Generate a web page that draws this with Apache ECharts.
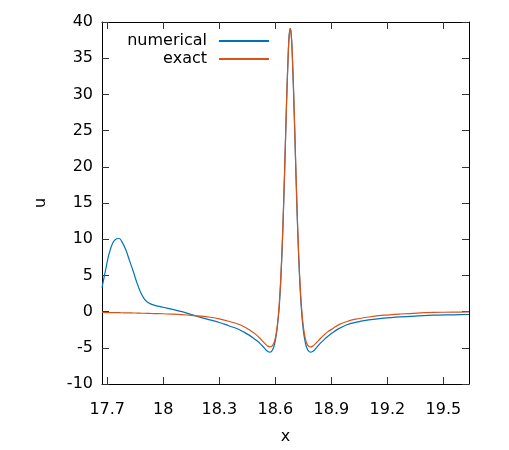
<!DOCTYPE html>
<html>
<head>
<meta charset="utf-8">
<script src="https://cdn.jsdelivr.net/npm/echarts@6.0.0/dist/echarts.min.js"></script>
<style>
  html, body { margin: 0; padding: 0; background: #fff; }
  #chart { width: 509px; height: 450px; }
</style>
</head>
<body>
<div id="chart"></div>
<script>
// values
const xs = [17.672, 17.69, 17.71, 17.73, 17.75, 17.765, 17.78, 17.80, 17.82, 17.84,
  17.86, 17.88, 17.90, 17.925, 17.95, 18.0, 18.05, 18.1, 18.15, 18.2,
  18.25, 18.3, 18.35, 18.4, 18.43, 18.46, 18.48, 18.5, 18.52, 18.54,
  18.55, 18.56, 18.57, 18.58, 18.59, 18.60, 18.61, 18.62, 18.63, 18.64,
  18.65, 18.66, 18.67, 18.675, 18.68, 18.685, 18.69, 18.70, 18.71, 18.72,
  18.73, 18.74, 18.75, 18.76, 18.77, 18.78, 18.79, 18.80, 18.81, 18.82,
  18.84, 18.86, 18.88, 18.91, 18.94, 18.98, 19.03, 19.1, 19.18, 19.27,
  19.36, 19.45, 19.55, 19.637]

const numerical = [3.3, 5.6, 8.0, 9.5, 10.05, 10.1, 9.6, 8.5, 7.0, 5.5,
  3.9, 2.6, 1.7, 1.15, 0.9, 0.6, 0.3, 0.0, -0.4, -0.8,
  -1.15, -1.5, -1.95, -2.4, -2.8, -3.25, -3.6, -4.0, -4.45, -5.0,
  -5.3, -5.5, -5.6, -5.5, -5.0, -4.0, -2.3, 0.3, 4.7, 11.1,
  19.5, 28.7, 36.2, 38.4, 39.1, 38.3, 36.0, 28.4, 19.3, 11.0,
  4.6, 0.2, -2.6, -4.2, -5.1, -5.5, -5.6, -5.5, -5.3, -5.0,
  -4.4, -3.9, -3.45, -2.85, -2.35, -1.85, -1.5, -1.15, -0.9, -0.72,
  -0.6, -0.5, -0.45, -0.4]

const exact = [-0.12, -0.13, -0.14, -0.14, -0.15, -0.15, -0.16, -0.17, -0.18, -0.19,
  -0.2, -0.22, -0.23, -0.25, -0.27, -0.3, -0.36, -0.43, -0.52, -0.63,
  -0.78, -1.0, -1.33, -1.72, -2.05, -2.5, -2.85, -3.25, -3.75, -4.3,
  -4.56, -4.77, -4.88, -4.83, -4.48, -3.65, -2.06, 0.68, 5.04, 11.4,
  19.7, 28.8, 36.2, 38.35, 39.1, 38.35, 36.2, 28.8, 19.7, 11.4,
  5.04, 0.68, -2.06, -3.65, -4.48, -4.83, -4.88, -4.77, -4.56, -4.3,
  -3.75, -3.25, -2.8, -2.3, -1.8, -1.4, -1.05, -0.75, -0.5, -0.33,
  -0.2, -0.12, -0.07, -0.05]

const xTicks = [17.7, 18, 18.3, 18.6, 18.9, 19.2, 19.5]
const xMin = 17.672
const xMax = 19.637

const font = 'DejaVu Sans'
const fontSize = 16
const chart = echarts.init(document.getElementById('chart'))

const axisLine = { show: true, onZero: false, lineStyle: { color: '#000', width: 1 } }
const tick = { show: true, inside: true, length: 7, lineStyle: { color: '#333' } }

function legendFor(name, top) {
  return {
    data: [name],
    right: 239,
    top: top,
    padding: 0,
    align: 'right',
    itemWidth: 50,
    itemHeight: 14,
    itemStyle: { opacity: 0, borderWidth: 0 },
    textStyle: { fontFamily: font, fontSize: fontSize, color: '#000', padding: [0, 7, 0, 0] }
  }
}

const option = {
  animation: false,
  grid: { left: 102, right: 40, top: 22, bottom: 62 },
  legend: [legendFor('numerical', 33), legendFor('exact', 51)],
  xAxis: [
    {
      type: 'value',
      min: xMin,
      max: xMax,
      name: 'x',
      nameLocation: 'middle',
      nameGap: 45,
      nameTextStyle: { fontFamily: font, fontSize: fontSize, color: '#000' },
      axisLine: axisLine,
      axisTick: Object.assign({ customValues: xTicks }, tick),
      axisLabel: { customValues: xTicks, margin: 18, fontFamily: font, fontSize: fontSize, color: '#000' },
      splitLine: { show: false }
    },
    {
      type: 'value',
      position: 'top',
      min: xMin,
      max: xMax,
      axisLine: axisLine,
      axisTick: Object.assign({ customValues: xTicks }, tick),
      axisLabel: { show: false, customValues: xTicks },
      splitLine: { show: false }
    }
  ],
  yAxis: [
    {
      type: 'value',
      min: -10,
      max: 40,
      interval: 5,
      name: 'u',
      nameLocation: 'middle',
      nameGap: 53,
      nameTextStyle: { fontFamily: font, fontSize: fontSize, color: '#000' },
      axisLine: axisLine,
      axisTick: tick,
      axisLabel: { margin: 9, fontFamily: font, fontSize: fontSize, color: '#000' },
      splitLine: { show: false }
    },
    {
      type: 'value',
      position: 'right',
      min: -10,
      max: 40,
      interval: 5,
      axisLine: axisLine,
      axisTick: tick,
      axisLabel: { show: false },
      splitLine: { show: false }
    }
  ],
  series: [
    {
      name: 'numerical',
      type: 'line',
      data: xs.map((x, i) => [x, numerical[i]]),
      symbol: 'none',
      smooth: 0.3,
      lineStyle: { color: '#0072bd', width: 1.2 },
      itemStyle: { color: '#0072bd' }
    },
    {
      name: 'exact',
      type: 'line',
      data: xs.map((x, i) => [x, exact[i]]),
      symbol: 'none',
      smooth: 0.3,
      lineStyle: { color: '#d95319', width: 1.2 },
      itemStyle: { color: '#d95319' }
    }
  ]
}

chart.setOption(option)
</script>
</body>
</html>
